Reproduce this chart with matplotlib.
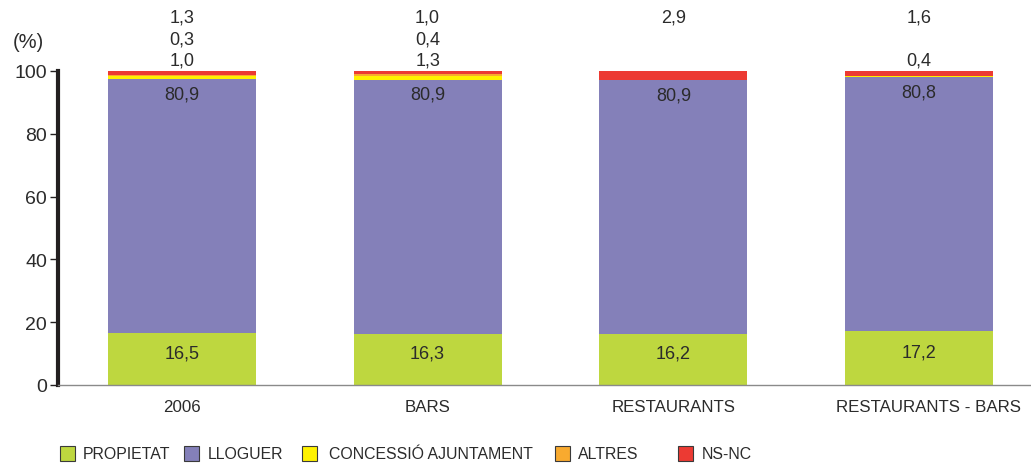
import matplotlib
matplotlib.use("Agg")
import matplotlib.pyplot as plt
from matplotlib.patches import Rectangle
from matplotlib.transforms import ScaledTranslation
import numpy as np

categories = ["2006", "BARS", "RESTAURANTS", "RESTAURANTS - BARS"]
propietat = [16.5, 16.3, 16.2, 17.2]
lloguer = [80.9, 80.9, 80.9, 80.8]
concessio = [1.0, 1.3, 0.0, 0.4]
altres = [0.3, 0.4, 0.0, 0.0]
nsnc = [1.3, 1.0, 2.9, 1.6]
series_names = ["PROPIETAT", "LLOGUER", "CONCESSIÓ AJUNTAMENT", "ALTRES", "NS-NC"]
colors = ["#bed73f", "#8480b9", "#fff200", "#f8aa2f", "#ec3a33"]
yticks = [0, 20, 40, 60, 80, 100]

def fmt(v):
    return f"{v:.1f}".replace(".", ",")

txt = "#2b2b2b"
plt.rcParams["font.family"] = ["Liberation Sans", "DejaVu Sans"]

fig = plt.figure(figsize=(10.31, 4.64), dpi=100)
ax = fig.add_axes([58/1031, (464-386)/464, 1 - 58/1031, (386-72)/464])

x = np.arange(len(categories))
w = 148/246
series = [propietat, lloguer, concessio, altres, nsnc]
bottom = np.zeros(len(categories))
for vals, c in zip(series, colors):
    ax.bar(x, vals, w, bottom=bottom, color=c, edgecolor="none")
    bottom += np.array(vals)

ax.set_xlim(-124/246, (1031-181)/246)
ax.set_ylim(0, 100)

fs_num = 13
for i in range(len(categories)):
    ax.text(x[i], propietat[i]/2 + 2, fmt(propietat[i]), ha="center", va="center", fontsize=fs_num, color=txt)
    ax.text(x[i], propietat[i] + lloguer[i] - 4.6, fmt(lloguer[i]), ha="center", va="center", fontsize=fs_num, color=txt)
    slots = [(nsnc[i], 117.2), (altres[i], 110.2), (concessio[i], 103.5)]
    for v, yy in slots:
        if v > 0:
            ax.text(x[i], yy, fmt(v), ha="center", va="center", fontsize=fs_num, color=txt, clip_on=False)

ax.spines["top"].set_visible(False)
ax.spines["right"].set_visible(False)
ax.spines["left"].set_linewidth(3)
ax.spines["left"].set_color("#231f20")
ax.spines["bottom"].set_linewidth(1)
ax.spines["bottom"].set_color("#8a8a8a")
ax.set_yticks(yticks)
ax.set_yticklabels([str(t) for t in yticks], fontsize=14, color=txt)
ax.tick_params(axis="y", length=6, width=1, color="#231f20", pad=2)
ax.set_xticks(x)
ax.set_xticklabels(categories, fontsize=12.2, color=txt)
ax.tick_params(axis="x", length=0, pad=10)
lbl = ax.get_xticklabels()[-1]
lbl.set_transform(lbl.get_transform() + ScaledTranslation(0.09, 0, fig.dpi_scale_trans))

fig.text(13/1031, 1 - 43/464, "(%)", fontsize=14.5, color=txt, ha="left", va="center")

# legend
leg_x = [60, 184, 302, 555, 678]
leg_tx = [83, 208, 329, 578, 702]
for name, c, lx, tx in zip(series_names, colors, leg_x, leg_tx):
    fig.add_artist(Rectangle((lx/1031, 1 - 462/464), 15/1031, 15/464, transform=fig.transFigure,
                             facecolor=c, edgecolor="#3a3a3a", linewidth=0.8))
    fig.text(tx/1031, 1 - 455/464, name, fontsize=11.4, color=txt, ha="left", va="center")

fig.savefig("out.png", dpi=100)
